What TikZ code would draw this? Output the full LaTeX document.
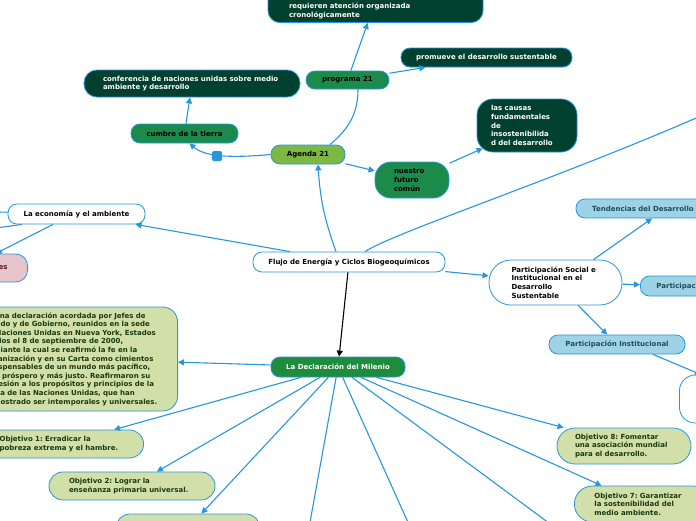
\documentclass[tikz,border=0pt]{standalone}
\usepackage{fontspec}
\setmainfont{DejaVu Sans}
\usetikzlibrary{arrows.meta}
\frenchspacing

\definecolor{edgeblue}{HTML}{2696DE}
\definecolor{darkgreen}{HTML}{00402E}
\definecolor{midgreen}{HTML}{1B8A4B}
\definecolor{agendagreen}{HTML}{7CB843}
\definecolor{declgreen}{HTML}{1E8B3D}
\definecolor{olive}{HTML}{D3DFA8}
\definecolor{olivetext}{HTML}{173A12}
\definecolor{skyblue}{HTML}{9DD3E5}
\definecolor{skytext}{HTML}{1D4D5C}
\definecolor{pinkfill}{HTML}{E7C6CB}
\definecolor{pinktext}{HTML}{5A1020}

\begin{document}
\begin{tikzpicture}[x=1pt, y=1pt,
    topic/.style={draw=edgeblue, line width=0.8pt, rounded corners=9pt, inner ysep=3pt,
      font=\fontsize{7}{8.6}\selectfont\bfseries},
    darktopic/.style={topic, fill=darkgreen, text=white},
    midtopic/.style={topic, fill=midgreen, text=black},
    whitetopic/.style={topic, fill=white, text=black},
    olivetopic/.style={topic, fill=olive, text=olivetext},
    skytopic/.style={topic, fill=skyblue, text=skytext},
    edge/.style={draw=edgeblue, line width=1.1pt, -{Triangle[length=6pt,width=6pt]}},
    plainedge/.style={draw=edgeblue, line width=1.1pt}]

    % Frame
    \useasboundingbox (0,0) rectangle (696,-520);
    \clip (0,0) rectangle (696,-520);

    % Central topic
    \node[whitetopic, minimum width=192pt, minimum height=20pt] (flujo) at (349,-262) {Flujo de Energía y Ciclos Biogeoquímicos};

    % Agenda 21 branch
    \node[topic, fill=agendagreen, minimum width=74pt, minimum height=19pt] (agenda) at (308,-154.5) {Agenda 21};
    \node[midtopic, minimum width=107pt, minimum height=19pt] (cumbre) at (184.5,-133.5) {cumbre de la tierra};
    \node[darktopic, rounded corners=13pt, text width=178pt, inner xsep=19pt, align=left, minimum height=27pt] (conferencia) at (192,-83.5) {conferencia de naciones unidas sobre medio\\ambiente y desarrollo};
    \node[midtopic, minimum width=83pt, minimum height=18pt] (programa) at (347.5,-80) {programa 21};
    \node[darktopic, minimum width=171pt, minimum height=19pt] (promueve) at (486.5,-57.5) {promueve el desarrollo sustentable};
    \node[darktopic, rounded corners=12pt, text width=173pt, inner xsep=21pt, align=left, text height=26pt, text depth=11pt, anchor=south] (organizada) at (375.5,-23) {requieren atención organizada\\cronológicamente};
    \node[midtopic, rounded corners=16pt, text width=36pt, inner xsep=19pt, align=left, minimum height=36pt] (futuro) at (412,-180) {nuestro\\futuro\\común};
    \node[darktopic, rounded corners=16pt, text width=72pt, inner xsep=14pt, align=left, minimum height=53pt] (causas) at (527,-125.5) {las causas\\fundamentales\\de\\insostenibilida\\d del desarrollo};

    % Economy branch
    \node[whitetopic, minimum width=137pt, minimum height=20pt] (economia) at (76.5,-214) {La economía y el ambiente};
    \node[topic, fill=pinkfill, text=pinktext, rounded corners=12pt, text width=48pt, inner xsep=20pt, align=right, minimum height=28pt, anchor=east] (pinkbox) at (28,-268) {es};
    \coordinate (ecoizq) at (-40,-211);
    \coordinate (ecoabajo) at (-40,-233);

    % Participation branch
    \node[whitetopic, rounded corners=22pt, text width=88pt, inner xsep=22.5pt, align=left, minimum height=45pt] (partsoc) at (555.5,-282.5) {Participación Social e\\Institucional en el\\Desarrollo\\Sustentable};
    \node[skytopic, minimum width=134pt, minimum height=19pt] (tendencias) at (643,-208.5) {Tendencias del Desarrollo};
    \node[skytopic, inner xsep=16pt, minimum height=20pt, anchor=west] (partright) at (640,-286) {Participación Social};
    \node[skytopic, minimum width=136pt, minimum height=19pt] (partinst) at (617,-344.5) {Participación Institucional};
    \node[whitetopic, rounded corners=16pt, minimum width=90pt, minimum height=48pt, anchor=west] (insthidden) at (679,-399) {};
    \coordinate (lejano) at (710,-112);

    % Millennium declaration branch
    \node[topic, fill=declgreen, text=white, minimum width=134pt, minimum height=20pt] (declaracion) at (338,-367) {La Declaración del Milenio};
    \node[olivetopic, rounded corners=15pt, text width=180pt, inner xsep=14pt, align=left, minimum height=104pt, anchor=east] (decltexto) at (178,-359) {Es una declaración acordada por Jefes de\\Estado y de Gobierno, reunidos en la sede\\de Naciones Unidas en Nueva York, Estados\\Unidos el 8 de septiembre de 2000,\\mediante la cual se reafirmó la fe en la\\Organización y en su Carta como cimientos\\indispensables de un mundo más pacífico,\\más próspero y más justo. Reafirmaron su\\adhesión a los propósitos y principios de la\\Carta de las Naciones Unidas, que han\\demostrado ser intemporales y universales.};
    \node[olivetopic, rounded corners=14pt, text width=126pt, inner xsep=18pt, align=left, minimum height=28pt, anchor=east] (obj1) at (144,-444) {Objetivo 1: Erradicar la\\pobreza extrema y el hambre.};
    \node[olivetopic, rounded corners=14pt, text width=126pt, inner xsep=20pt, align=left, minimum height=28pt] (obj2) at (132,-486) {Objetivo 2: Lograr la\\enseñanza primaria universal.};
    \node[olivetopic, rounded corners=14pt, minimum width=144pt, minimum height=28pt] (obj3) at (188,-528) {};
    \node[olivetopic, rounded corners=18pt, text width=98pt, inner xsep=18pt, align=left, minimum height=36pt] (obj8) at (624,-446) {Objetivo 8: Fomentar\\una asociación mundial\\para el desarrollo.};
    \node[olivetopic, rounded corners=18pt, text width=96pt, inner xsep=20pt, align=left, minimum height=36pt, anchor=west] (obj7) at (574,-504) {Objetivo 7: Garantizar\\la sostenibilidad del\\medio ambiente.};
    \coordinate (obj4) at (296,-600);
    \coordinate (obj5) at (443,-600);
    \coordinate (obj6) at (653,-600);

    % Connectors from the centre
    \draw[edge] (flujo) -- (economia);
    \draw[edge] ([xshift=-13pt]flujo.north) to[bend left=8] ([xshift=10pt]agenda.south);
    \draw[edge, draw=black] (flujo) -- (declaracion);
    \draw[edge] (flujo) -- (partsoc);
    \draw[plainedge] ([xshift=16pt]flujo.north) .. controls (395,-232) and (560,-178) .. (lejano);

    % Connectors of Agenda 21
    \draw[edge] (agenda.west) .. controls (232,-158) and (205,-157) .. ([xshift=5pt]cumbre.south);
    \draw[plainedge] ([xshift=22pt]agenda.north) to[out=40, in=-90] ([xshift=10.5pt]programa.south);
    \draw[edge] (agenda) -- (futuro);
    \draw[edge] (futuro) -- ([shift={(6pt,4pt)}]causas.south west);
    \draw[edge] (cumbre) -- (conferencia);
    \draw[edge] (programa) -- (organizada);
    \draw[edge] (programa) -- (promueve);
    \node[fill=edgeblue, rounded corners=1.5pt, minimum size=10pt, inner sep=0pt] (agendamark) at (217,-156) {};

    % Connectors of the economy
    \draw[edge] (economia) -- (ecoizq);
    \draw[edge] ([xshift=-54.5pt]economia.south) -- (ecoabajo);
    \draw[edge] ([xshift=-23.5pt]economia.south) -- ([xshift=12pt]pinkbox.north);

    % Connectors of participation
    \draw[edge] ([xshift=38pt]partsoc.north) -- ([xshift=9pt]tendencias.south);
    \draw[edge] (partsoc) -- (partright);
    \draw[edge] (partsoc) -- (partinst);
    \draw[edge] ([xshift=36pt]partinst.south) -- ([xshift=22pt]insthidden.north west);

    % Connectors of the declaration
    \draw[edge] (declaracion) -- (decltexto);
    \draw[edge] (declaracion) -- (obj1);
    \draw[edge] (declaracion) -- (obj2);
    \draw[edge] (declaracion) -- (obj3);
    \draw[edge] (declaracion) -- (obj4);
    \draw[edge] (declaracion) -- (obj5);
    \draw[edge] (declaracion) -- (obj6);
    \draw[edge] (declaracion) -- (obj7);
    \draw[edge] (declaracion) -- ([xshift=7pt]obj8.north west);
\end{tikzpicture}
\end{document}
